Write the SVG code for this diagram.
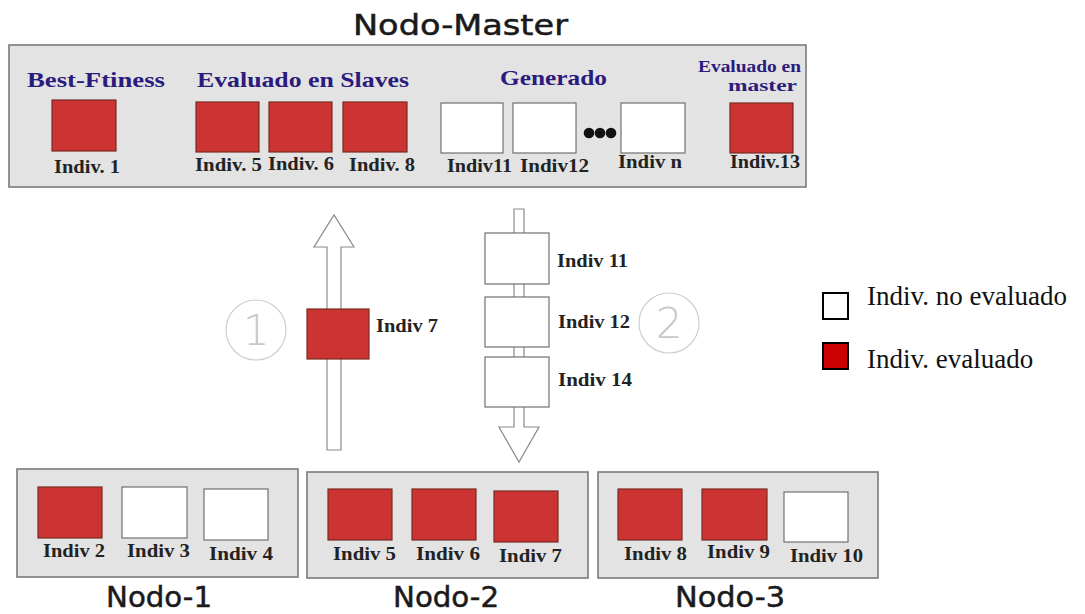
<svg xmlns="http://www.w3.org/2000/svg" width="1085" height="614" viewBox="0 0 1085 614">
<style>
.panel{fill:#e3e3e3;stroke:#7a7a7a;stroke-width:1.6}
.red{fill:#cc3333;stroke:#7a2a22;stroke-width:1.2}
.white{fill:#ffffff;stroke:#707070;stroke-width:1.2}
.lbl{font-family:"Liberation Serif",serif;font-weight:bold;font-size:18px;fill:#222}
.head{font-family:"Liberation Serif",serif;font-weight:bold;font-size:22px;fill:#2b1b7d}
.head2{font-family:"Liberation Serif",serif;font-weight:bold;font-size:16px;fill:#2b1b7d}
.title{font-family:"DejaVu Sans","Liberation Sans",sans-serif;font-size:28px;fill:#1a1a1a;stroke:#1a1a1a;stroke-width:0.5}
.arrow{fill:#ffffff;stroke:#8a8a8a;stroke-width:1.2}
.num{fill:none;stroke:#cfcfcf;stroke-width:1.2}
.numt{font-family:"DejaVu Sans","Liberation Sans",sans-serif;font-weight:200;font-size:42px;fill:#c8c8c8}
.leg{font-family:"Liberation Serif",serif;font-size:27px;fill:#111}
</style>

<g id="master">
  <rect class="panel" x="9" y="45" width="797" height="142"/>
  <text class="title" x="353" y="35" textLength="215" lengthAdjust="spacingAndGlyphs">Nodo-Master</text>
  <text class="head" x="27" y="87" textLength="138" lengthAdjust="spacingAndGlyphs">Best-Ftiness</text>
  <text class="head" x="197" y="87" textLength="212" lengthAdjust="spacingAndGlyphs">Evaluado en Slaves</text>
  <text class="head" x="500" y="85" textLength="107" lengthAdjust="spacingAndGlyphs">Generado</text>
  <text class="head2" x="698" y="72" textLength="103" lengthAdjust="spacingAndGlyphs">Evaluado en</text>
  <text class="head2" x="728" y="91" textLength="69" lengthAdjust="spacingAndGlyphs">master</text>
  <rect class="red" x="52" y="100" width="64" height="51"/>
  <rect class="red" x="196" y="102" width="63" height="50"/>
  <rect class="red" x="269" y="102" width="63" height="50"/>
  <rect class="red" x="343" y="102" width="64" height="50"/>
  <rect class="white" x="441" y="103" width="62" height="50"/>
  <rect class="white" x="513" y="103" width="63" height="50"/>
  <circle cx="589" cy="133" r="5.3" fill="#111"/>
  <circle cx="600" cy="133" r="5.3" fill="#111"/>
  <circle cx="611" cy="133" r="5.3" fill="#111"/>
  <rect class="white" x="621" y="103" width="64" height="50"/>
  <rect class="red" x="730" y="103" width="63" height="50"/>
  <text class="lbl" x="54" y="173" textLength="66" lengthAdjust="spacingAndGlyphs">Indiv. 1</text>
  <text class="lbl" x="195" y="171" textLength="67" lengthAdjust="spacingAndGlyphs">Indiv. 5</text>
  <text class="lbl" x="268" y="170" textLength="66" lengthAdjust="spacingAndGlyphs">Indiv. 6</text>
  <text class="lbl" x="349" y="171" textLength="66" lengthAdjust="spacingAndGlyphs">Indiv. 8</text>
  <text class="lbl" x="447" y="172" textLength="65" lengthAdjust="spacingAndGlyphs">Indiv11</text>
  <text class="lbl" x="520" y="172" textLength="69" lengthAdjust="spacingAndGlyphs">Indiv12</text>
  <text class="lbl" x="618" y="168" textLength="64" lengthAdjust="spacingAndGlyphs">Indiv n</text>
  <text class="lbl" x="730" y="168" textLength="70" lengthAdjust="spacingAndGlyphs">Indiv.13</text>
</g>

<g id="connectors">
  <polygon class="arrow" points="327,450 341,450 341,247 354,247 334,215 314,247 327,247"/>
  <polygon class="arrow" points="514,209 524,209 524,427 539,427 519,462 499,427 514,427"/>
</g>

<g id="step1">
  <circle class="num" cx="256" cy="330" r="30"/>
  <text class="numt" x="256" y="345" text-anchor="middle">1</text>
  <rect class="red" x="307" y="309" width="62" height="50"/>
  <text class="lbl" x="376" y="332" textLength="62" lengthAdjust="spacingAndGlyphs">Indiv 7</text>
</g>

<g id="step2">
  <rect class="white" x="485" y="233" width="64" height="51"/>
  <rect class="white" x="485" y="297" width="64" height="50"/>
  <rect class="white" x="485" y="357" width="64" height="50"/>
  <text class="lbl" x="557" y="267" textLength="71" lengthAdjust="spacingAndGlyphs">Indiv 11</text>
  <text class="lbl" x="558" y="328" textLength="72" lengthAdjust="spacingAndGlyphs">Indiv 12</text>
  <text class="lbl" x="558" y="386" textLength="74" lengthAdjust="spacingAndGlyphs">Indiv 14</text>
  <circle class="num" cx="669" cy="323" r="30"/>
  <text class="numt" x="669" y="338" text-anchor="middle">2</text>
</g>

<g id="legend">
  <rect x="823" y="293" width="25" height="26" fill="#fff" stroke="#000" stroke-width="2"/>
  <text class="leg" x="867" y="305">Indiv. no evaluado</text>
  <rect x="823" y="343" width="25" height="26" fill="#cc0000" stroke="#000" stroke-width="2"/>
  <text class="leg" x="867" y="368">Indiv. evaluado</text>
</g>

<g id="nodo1">
  <rect class="panel" x="17" y="469" width="281" height="108"/>
  <rect class="red" x="38" y="487" width="64" height="51"/>
  <rect class="white" x="122" y="487" width="65" height="51"/>
  <rect class="white" x="204" y="489" width="64" height="51"/>
  <text class="lbl" x="43" y="557" textLength="62" lengthAdjust="spacingAndGlyphs">Indiv 2</text>
  <text class="lbl" x="127" y="557" textLength="63" lengthAdjust="spacingAndGlyphs">Indiv 3</text>
  <text class="lbl" x="209" y="560" textLength="64" lengthAdjust="spacingAndGlyphs">Indiv 4</text>
  <text class="title" x="106" y="607" textLength="106" lengthAdjust="spacingAndGlyphs">Nodo-1</text>
</g>

<g id="nodo2">
  <rect class="panel" x="307" y="472" width="281" height="106"/>
  <rect class="red" x="328" y="489" width="64" height="51"/>
  <rect class="red" x="412" y="489" width="64" height="51"/>
  <rect class="red" x="494" y="491" width="64" height="51"/>
  <text class="lbl" x="333" y="560" textLength="63" lengthAdjust="spacingAndGlyphs">Indiv 5</text>
  <text class="lbl" x="416" y="560" textLength="64" lengthAdjust="spacingAndGlyphs">Indiv 6</text>
  <text class="lbl" x="499" y="562" textLength="63" lengthAdjust="spacingAndGlyphs">Indiv 7</text>
  <text class="title" x="393" y="607" textLength="106" lengthAdjust="spacingAndGlyphs">Nodo-2</text>
</g>

<g id="nodo3">
  <rect class="panel" x="598" y="472" width="280" height="106"/>
  <rect class="red" x="618" y="489" width="64" height="51"/>
  <rect class="red" x="702" y="489" width="65" height="51"/>
  <rect class="white" x="784" y="492" width="64" height="50"/>
  <text class="lbl" x="624" y="560" textLength="63" lengthAdjust="spacingAndGlyphs">Indiv 8</text>
  <text class="lbl" x="707" y="558" textLength="63" lengthAdjust="spacingAndGlyphs">Indiv 9</text>
  <text class="lbl" x="790" y="562" textLength="73" lengthAdjust="spacingAndGlyphs">Indiv 10</text>
  <text class="title" x="675" y="607" textLength="110" lengthAdjust="spacingAndGlyphs">Nodo-3</text>
</g>
</svg>
